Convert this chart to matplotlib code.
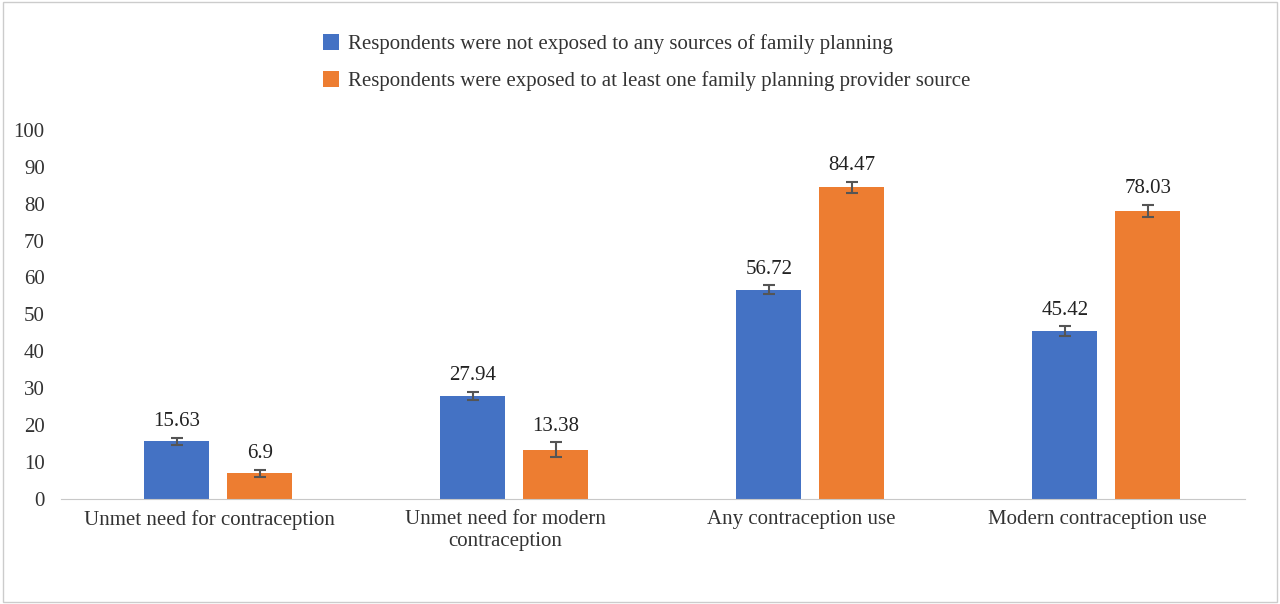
import matplotlib
matplotlib.use("Agg")
import matplotlib.pyplot as plt
import numpy as np

categories = ["Unmet need for contraception", "Unmet need for modern\ncontraception",
              "Any contraception use", "Modern contraception use"]
not_exposed = [15.63, 27.94, 56.72, 45.42]
exposed = [6.9, 13.38, 84.47, 78.03]
err_not = [1.0, 1.1, 1.2, 1.3]
err_exp = [1.0, 2.0, 1.5, 1.7]
series_names = ["Respondents were not exposed to any sources of family planning",
                "Respondents were exposed to at least one family planning provider source"]

plt.rcParams['font.family'] = ['Liberation Serif', 'DejaVu Serif']
fig = plt.figure(figsize=(12.8, 6.04), dpi=100)
ax = fig.add_axes([0.048, 0.174, 0.925, 0.611])
x = np.arange(len(categories)) + 0.03
w = 0.22
c1, c2 = "#4472C4", "#ED7D31"
b1 = ax.bar(x - 0.14, not_exposed, w, color=c1, yerr=err_not, capsize=4,
            error_kw=dict(ecolor="#555555", elinewidth=1.5, capthick=1.5), label=series_names[0])
b2 = ax.bar(x + 0.14, exposed, w, color=c2, yerr=err_exp, capsize=4,
            error_kw=dict(ecolor="#555555", elinewidth=1.5, capthick=1.5), label=series_names[1])
for xi, v, e in zip(x - 0.14, not_exposed, err_not):
    ax.text(xi, v + e + 1.8, f"{v:g}", ha="center", va="bottom", fontsize=15, color="#222222")
for xi, v, e in zip(x + 0.14, exposed, err_exp):
    ax.text(xi, v + e + 1.8, f"{v:g}", ha="center", va="bottom", fontsize=15, color="#222222")
ax.set_xlim(-0.5, 3.5)
ax.set_ylim(0, 100)
ax.set_yticks(range(0, 101, 10))
ax.set_xticks(np.arange(len(categories)))
ax.set_xticklabels(categories, fontsize=15, color="#333333")
ax.tick_params(axis='y', labelsize=15, colors="#333333", length=0, pad=12)
ax.tick_params(axis='x', length=0, pad=8)
for s in ["top", "right", "left"]:
    ax.spines[s].set_visible(False)
ax.spines["bottom"].set_color("#c8c8c8")
fig.legend(handles=[b1, b2], loc="upper center", bbox_to_anchor=(0.505, 0.975), ncol=1,
           frameon=False, fontsize=15, handlelength=0.8, handleheight=0.8,
           handletextpad=0.4, labelspacing=0.8, labelcolor="#333333")
fig.add_artist(plt.Rectangle((0.002, 0.004), 0.996, 0.992, transform=fig.transFigure,
                             fill=False, edgecolor="#cccccc", linewidth=1))
fig.savefig("out.png", dpi=100)
